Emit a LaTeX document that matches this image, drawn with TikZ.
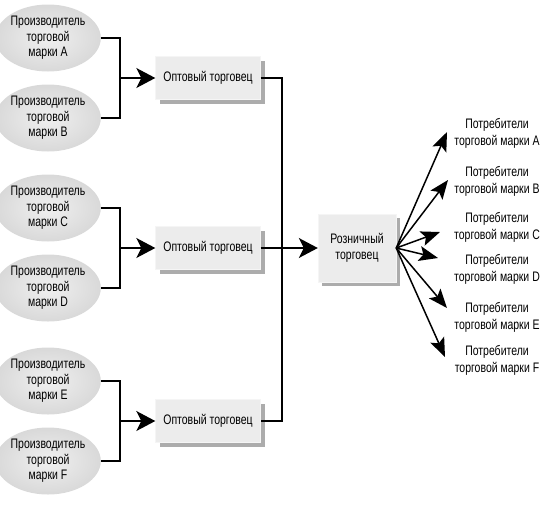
\documentclass[tikz,border=0pt]{standalone}
\usepackage{fontspec}
\setmainfont{Liberation Sans}[FakeStretch=0.76]
\usetikzlibrary{arrows.meta,shapes.geometric,shadows}
\begin{document}
\begin{tikzpicture}[x=1pt,y=-1pt,
  font=\fontsize{13.8}{15.5}\selectfont,
  prod/.style={ellipse, minimum width=93pt, minimum height=67pt, inner sep=0pt,
    inner color=gray!12, outer color=gray!30, align=center},
  boxw/.style={rectangle, minimum width=105pt, minimum height=43pt,
    fill=gray!15, draw=gray!8, align=center,
    drop shadow={shadow xshift=4pt, shadow yshift=-4pt, fill=gray!65, opacity=1}},
  boxr/.style={rectangle, minimum width=78pt, minimum height=68pt,
    fill=gray!15, draw=gray!8, align=center,
    drop shadow={shadow xshift=4pt, shadow yshift=-4pt, fill=gray!65, opacity=1}},
  cons/.style={align=center, font=\fontsize{13.8}{17}\selectfont, inner sep=0pt},
  conn/.style={line width=1.5pt},
  bigarr/.style={line width=1.5pt, -{Stealth[length=19pt,width=20pt,inset=5pt]}},
  fanarr/.style={line width=1.5pt, -{Stealth[length=19pt,width=15pt,inset=4pt]}}
]
\useasboundingbox (0,0) rectangle (553,504);

% producers
\node[prod] (pA) at (48,38) {Производитель\\торговой\\марки A};
\node[prod] (pB) at (48,118) {Производитель\\торговой\\марки B};
\node[prod] (pC) at (48,208) {Производитель\\торговой\\марки C};
\node[prod] (pD) at (48,288) {Производитель\\торговой\\марки D};
\node[prod] (pE) at (48,381) {Производитель\\торговой\\марки E};
\node[prod] (pF) at (48,461) {Производитель\\торговой\\марки F};

% junctions
\coordinate (j1) at (120,78);
\coordinate (j2) at (120,248);
\coordinate (j3) at (120,421);
\coordinate (j4) at (282,248);

% wholesalers
\node[boxw] (w1) at (208,78) {Оптовый торговец};
\node[boxw] (w2) at (208,248) {Оптовый торговец};
\node[boxw] (w3) at (208,421) {Оптовый торговец};

% retailer
\node[boxr] (r) at (357,248) {Розничный\\торговец};

% consumers
\node[cons] (cA) at (497,133) {Потребители\\торговой марки A};
\node[cons] (cB) at (497,181) {Потребители\\торговой марки B};
\node[cons] (cC) at (497,227) {Потребители\\торговой марки C};
\node[cons] (cD) at (497,269) {Потребители\\торговой марки D};
\node[cons] (cE) at (497,317) {Потребители\\торговой марки E};
\node[cons] (cF) at (497,360) {Потребители\\торговой марки F};

% arrow tips
\coordinate (tA) at (447,132);
\coordinate (tB) at (448,180);
\coordinate (tC) at (440,232);
\coordinate (tD) at (438,258);
\coordinate (tE) at (447,308);
\coordinate (tF) at (445,357);

% producer -> wholesaler
\draw[conn] (pA.east) -| (j1) |- (pB.east);
\draw[conn] (pC.east) -| (j2) |- (pD.east);
\draw[conn] (pE.east) -| (j3) |- (pF.east);
\draw[bigarr] (j1) -- (w1.west);
\draw[bigarr] (j2) -- (w2.west);
\draw[bigarr] (j3) -- (w3.west);

% wholesaler -> retailer
\draw[conn] (w1.east) -| (j4) |- (w3.east);
\draw[conn] (w2.east) -- (j4);
\draw[bigarr] (j4) -- (r.west);

% retailer -> consumers
\draw[fanarr] (r.east) -- (tA);
\draw[fanarr] (r.east) -- (tB);
\draw[fanarr] (r.east) -- (tC);
\draw[fanarr] (r.east) -- (tD);
\draw[fanarr] (r.east) -- (tE);
\draw[fanarr] (r.east) -- (tF);
\end{tikzpicture}
\end{document}
